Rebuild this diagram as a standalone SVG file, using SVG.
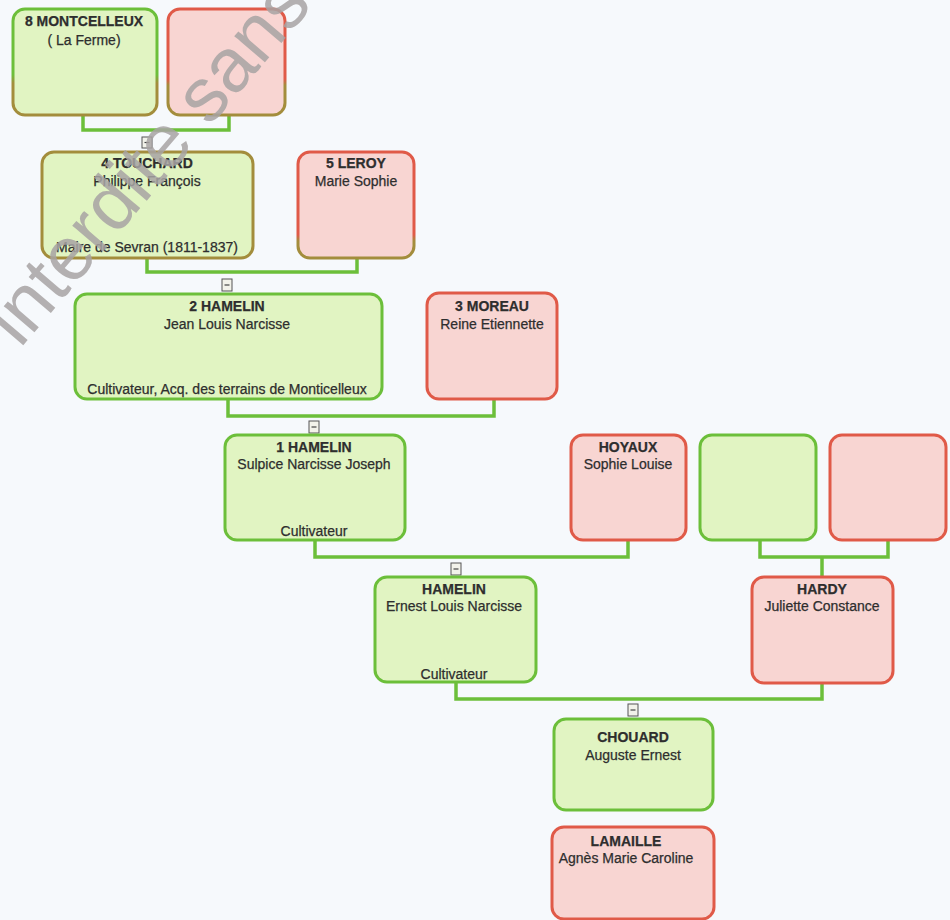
<svg xmlns="http://www.w3.org/2000/svg" width="950" height="920" viewBox="0 0 950 920">
<defs>
<linearGradient id="gGO" x1="0" y1="0" x2="0" y2="1">
<stop offset="0" stop-color="#6cbf3a"/><stop offset="0.62" stop-color="#6cbf3a"/><stop offset="0.7" stop-color="#a38d3c"/><stop offset="1" stop-color="#a38d3c"/>
</linearGradient>
<linearGradient id="gRO" x1="0" y1="0" x2="0" y2="1">
<stop offset="0" stop-color="#e05a48"/><stop offset="0.66" stop-color="#e05a48"/><stop offset="0.72" stop-color="#a38d3c"/><stop offset="1" stop-color="#a38d3c"/>
</linearGradient>
<linearGradient id="gRO2" x1="0" y1="0" x2="0" y2="1">
<stop offset="0" stop-color="#e05a48"/><stop offset="0.78" stop-color="#e05a48"/><stop offset="0.84" stop-color="#a38d3c"/><stop offset="1" stop-color="#a38d3c"/>
</linearGradient>
<style>
.m{fill:#e1f4c2;stroke:#6cbf3a;stroke-width:3}
.f{fill:#f8d5d2;stroke:#e05a48;stroke-width:3}
.o{stroke:#a38d3c}
.t{font-family:"Liberation Sans",Arial,sans-serif;font-size:14px;fill:#2e2e2e;stroke:#2e2e2e;stroke-width:0.25;text-anchor:middle}
.b{font-weight:bold}
.c{fill:none;stroke:#6cbf3a;stroke-width:3.5}
.x{fill:#f2f2ea;stroke:#555;stroke-width:1}
.xl{stroke:#444;stroke-width:1.2}
.wm{font-family:"Liberation Sans",Arial,sans-serif;font-size:76px;fill:#a8a4a4;opacity:0.85}
</style>
</defs>
<rect width="950" height="920" fill="#f6f9fc"/>
<g id="connectors">
<path class="c" d="M83 115 V130 H229 V115"/>
<path class="c" d="M147 258 V272 H357 V258"/>
<path class="c" d="M228 399 V416 H494 V399"/>
<path class="c" d="M315 540 V557 H628 V540"/>
<path class="c" d="M456 682 V699 H822 V683"/>
<path class="c" d="M760 540 V557 H888 V540 M822 557 V577"/>
<rect class="x" x="142" y="137" width="10" height="11"/><line class="xl" x1="144.5" y1="142.5" x2="149.5" y2="142.5"/>
<rect class="x" x="222" y="279" width="10" height="12"/><line class="xl" x1="224.5" y1="285" x2="229.5" y2="285"/>
<rect class="x" x="309" y="421" width="10" height="12"/><line class="xl" x1="311.5" y1="427" x2="316.5" y2="427"/>
<rect class="x" x="451" y="563" width="10" height="12"/><line class="xl" x1="453.5" y1="569" x2="458.5" y2="569"/>
<rect class="x" x="628" y="704" width="10" height="12"/><line class="xl" x1="630.5" y1="710" x2="635.5" y2="710"/>
</g>
<g id="n8"><rect class="m" x="13" y="9" width="144" height="106" rx="12" style="stroke:url(#gGO)"/>
<text class="t b" x="84" y="26">8 MONTCELLEUX</text><text class="t" x="84" y="45">( La Ferme)</text></g>
<g id="n9"><rect class="f" x="168" y="9" width="117" height="106" rx="12" style="stroke:url(#gRO)"/></g>
<g id="n4"><rect class="m o" x="42" y="152" width="211" height="106" rx="12"/>
<text class="t b" x="147" y="168">4 TOUCHARD</text><text class="t" x="147" y="186">Philippe François</text><text class="t" x="147" y="252">Maire de Sevran (1811-1837)</text></g>
<g id="n5"><rect class="f" x="298" y="152" width="116" height="106" rx="12" style="stroke:url(#gRO2)"/>
<text class="t b" x="356" y="168">5 LEROY</text><text class="t" x="356" y="186">Marie Sophie</text></g>
<g id="n2"><rect class="m" x="75" y="294" width="307" height="105" rx="12"/>
<text class="t b" x="227" y="311">2 HAMELIN</text><text class="t" x="227" y="329">Jean Louis Narcisse</text><text class="t" x="227" y="394">Cultivateur, Acq. des terrains de Monticelleux</text></g>
<g id="n3"><rect class="f" x="427" y="293" width="130" height="106" rx="12"/>
<text class="t b" x="492" y="311">3 MOREAU</text><text class="t" x="492" y="329">Reine Etiennette</text></g>
<g id="n1"><rect class="m" x="225" y="435" width="180" height="105" rx="12"/>
<text class="t b" x="314" y="452">1 HAMELIN</text><text class="t" x="314" y="469">Sulpice Narcisse Joseph</text><text class="t" x="314" y="536">Cultivateur</text></g>
<g id="hoyaux"><rect class="f" x="571" y="435" width="115" height="105" rx="12"/>
<text class="t b" x="628" y="452">HOYAUX</text><text class="t" x="628" y="469">Sophie Louise</text></g>
<g id="g2"><rect class="m" x="700" y="435" width="116" height="105" rx="12"/></g>
<g id="r2"><rect class="f" x="830" y="435" width="116" height="105" rx="12"/></g>
<g id="ernest"><rect class="m" x="375" y="577" width="161" height="105" rx="12"/>
<text class="t b" x="454" y="594">HAMELIN</text><text class="t" x="454" y="611">Ernest Louis Narcisse</text><text class="t" x="454" y="679">Cultivateur</text></g>
<g id="hardy"><rect class="f" x="752" y="577" width="141" height="106" rx="12"/>
<text class="t b" x="822" y="594">HARDY</text><text class="t" x="822" y="611">Juliette Constance</text></g>
<g id="chouard"><rect class="m" x="554" y="719" width="159" height="91" rx="12"/>
<text class="t b" x="633" y="742">CHOUARD</text><text class="t" x="633" y="760">Auguste Ernest</text></g>
<g id="lamaille"><rect class="f" x="552" y="827" width="162" height="92" rx="12"/>
<text class="t b" x="626" y="846">LAMAILLE</text><text class="t" x="626" y="863">Agnès Marie Caroline</text></g>
<text class="wm" transform="translate(20 349) rotate(-49.5)">interdite sans c</text>
</svg>
